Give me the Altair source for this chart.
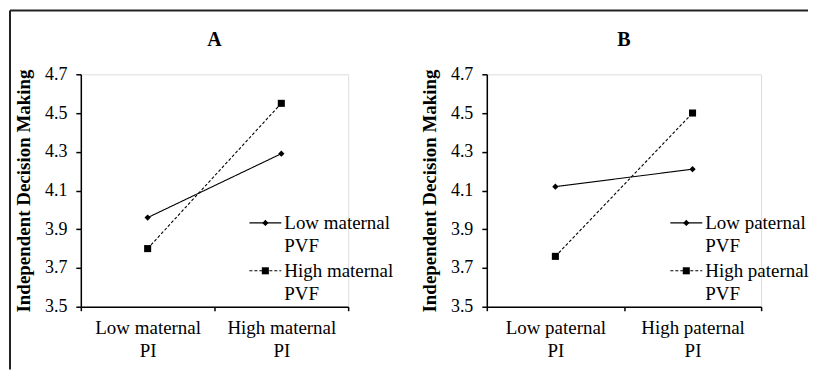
import altair as alt
import pandas as pd

FONT = "Liberation Serif"

# ---- data ----
y_ticks = [3.5, 3.7, 3.9, 4.1, 4.3, 4.5, 4.7]

cats_A = ["Low maternal PI", "High maternal PI"]
series_A = ["Low maternal PVF", "High maternal PVF"]
low_A = [3.96, 4.29]
high_A = [3.80, 4.55]

cats_B = ["Low paternal PI", "High paternal PI"]
series_B = ["Low paternal PVF", "High paternal PVF"]
low_B = [4.12, 4.21]
high_B = [3.76, 4.50]

panel_letters = ["A", "B"]

# ---- styling ----
H = 233
DASHES = [[1, 0], [3, 2]]
SHAPES = ["diamond", "square"]
SIZES = [40, 50]
LEG_ROWS = [149, 197]      # legend row centres (px from plot top)
LEG_LINE = 32              # legend line length


def panel(letter, cats, series, low, high, width, legend_x, frame):
    df = pd.DataFrame({
        "cat": cats * 2,
        "series": [series[0]] * 2 + [series[1]] * 2,
        "value": low + high,
    })
    x = alt.X(
        "cat:N", sort=cats,
        scale=alt.Scale(paddingInner=0, paddingOuter=0),
        axis=alt.Axis(
            title=None, labelAngle=0, tickBand="extent", tickSize=4,
            tickColor="black", tickWidth=1.5, domainColor="black", domainWidth=1.5,
            labelFont=FONT, labelFontSize=19, labelColor="black",
            labelLineHeight=23, labelPadding=8,
            labelExpr="indexof(datum.label, ' PI') >= 0 ? [replace(datum.label, ' PI', ''), 'PI'] : ''",
        ),
    )
    y = alt.Y(
        "value:Q",
        scale=alt.Scale(domain=[3.5, 4.7], nice=False, zero=False),
        axis=alt.Axis(
            values=y_ticks, format=".1f", grid=False, tickSize=5,
            tickColor="black", tickWidth=1.5, domainColor="black", domainWidth=1.5,
            labelFont=FONT, labelFontSize=18, labelColor="black", labelPadding=9,
            title="Independent Decision Making", titleFont=FONT, titleFontSize=19,
            titleFontWeight="bold", titleColor="black", titleAngle=270,
            titleX=-57, titleY=H / 2, titleBaseline="middle", titleAlign="center",
        ),
    )
    lines = alt.Chart(df).mark_line(color="black", strokeWidth=1.1).encode(
        x=x, y=y,
        strokeDash=alt.StrokeDash("series:N", scale=alt.Scale(domain=series, range=DASHES), legend=None),
    )
    pts = alt.Chart(df).mark_point(filled=True, color="black", opacity=1).encode(
        x=x, y=y,
        shape=alt.Shape("series:N", scale=alt.Scale(domain=series, range=SHAPES), legend=None),
        size=alt.Size("series:N", scale=alt.Scale(domain=series, range=SIZES), legend=None),
    )
    layers = [lines, pts]

    # legend (drawn with marks so the two-line labels and line+marker keys match)
    for i, s in enumerate(series):
        ldf = pd.DataFrame({"series": [s]})
        yc = LEG_ROWS[i]
        key_line = alt.Chart(ldf).mark_rule(
            color="black", strokeWidth=1.1, strokeDash=DASHES[i]
        ).encode(x=alt.value(legend_x), x2=alt.value(legend_x + LEG_LINE), y=alt.value(yc))
        key_pt = alt.Chart(ldf).mark_point(
            filled=True, color="black", opacity=1, shape=SHAPES[i], size=SIZES[i]
        ).encode(x=alt.value(legend_x + LEG_LINE / 2), y=alt.value(yc))
        key_txt = alt.Chart(ldf).mark_text(
            text=s.rsplit(" ", 1), font=FONT, fontSize=19, color="black",
            align="left", baseline="top", lineHeight=23.5,
        ).encode(x=alt.value(legend_x + LEG_LINE + 3), y=alt.value(yc - 9))
        layers += [key_line, key_pt, key_txt]

    tdf = pd.DataFrame({"t": [letter]})
    title = alt.Chart(tdf).mark_text(
        font=FONT, fontSize=20, fontWeight="bold", color="black", baseline="middle"
    ).encode(text="t:N", x=alt.value(width / 2), y=alt.value(-34))
    layers.append(title)

    if frame:
        one = pd.DataFrame({"k": [0]})
        top = alt.Chart(one).mark_rule(color="#222", strokeWidth=2).encode(
            x=alt.value(-71), x2=alt.value(729), y=alt.value(-64))
        left = alt.Chart(one).mark_rule(color="#222", strokeWidth=2).encode(
            x=alt.value(-71), y=alt.value(-64), y2=alt.value(296))
        layers += [top, left]
    return alt.layer(*layers).properties(width=width, height=H)


A = panel(panel_letters[0], cats_A, series_A, low_A, high_A, 268, 169, True)
B = panel(panel_letters[1], cats_B, series_B, low_B, high_B, 275, 184, False)

chart = alt.hconcat(A, B, spacing=139, bounds="flush", padding=0).resolve_scale(
    x="independent", y="independent", strokeDash="independent",
    shape="independent", size="independent",
).configure_view(stroke=None).configure(background="white")

chart.save("out.html", embed_options={"renderer": "svg", "actions": False})
